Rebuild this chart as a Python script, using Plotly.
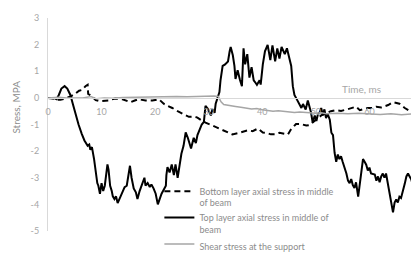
import plotly.graph_objects as go

# ---- data ----
top_t = [0, 1.0, 1.6, 2.0, 2.5, 3.1, 3.6, 4.2, 4.6, 5.1, 5.7, 6.3, 6.8, 7.4, 7.7, 7.9, 8.2, 8.6, 8.9, 9.2,
         9.4, 9.7, 10.0, 10.3, 10.6, 10.8, 11.1, 11.3, 11.6, 11.9, 12.1, 12.4, 12.7, 13.0, 13.3, 13.6, 13.9,
         14.3, 14.7, 15.0, 15.3, 15.6, 16.0, 16.4, 16.7, 17.1, 17.5, 18.0, 18.2, 18.6, 19.0, 19.3, 19.7,
         20.1, 20.5, 20.8, 21.2, 21.6, 22.0, 22.1, 22.3, 22.7, 23.1, 23.5, 23.8, 24.2, 24.6, 24.9, 25.3,
         25.7, 26.1, 26.4, 26.7, 27.2, 27.6, 27.9, 28.3, 28.7, 29.1, 29.4, 29.8, 30.1, 30.4, 30.7, 31.1,
         31.3, 31.7, 32.0, 32.2, 32.6, 33.0, 33.2, 33.6, 33.9, 34.1, 34.5, 34.8, 35.0, 35.4, 35.8, 36.2,
         36.5, 36.8, 37.2, 37.6, 38.0, 38.4, 38.8, 39.0, 39.5, 39.7, 40.1, 40.5, 41.0, 41.5, 41.9, 42.4,
         42.8, 43.2, 43.6, 44.2, 44.6, 45.1, 45.4, 45.7, 46.0, 46.3, 46.6, 47.0, 47.3, 47.6, 47.9, 48.1,
         48.5, 48.8, 49.1, 49.4, 49.8, 50.1, 50.4, 50.7, 51.0, 51.3, 51.6, 51.9, 52.2, 52.6, 52.9, 53.2,
         53.5, 53.8, 54.1, 54.4, 54.7, 55.0, 55.4, 55.7, 56.0, 56.3, 56.6, 56.9, 57.2, 57.5, 57.9, 58.2,
         58.5, 58.8, 59.1, 59.4, 59.7, 60.0, 60.3, 61.0, 61.3, 61.6, 61.9, 62.2, 62.5, 62.8, 63.1, 63.5,
         63.8, 64.1, 64.4, 64.7, 65.0, 65.3, 65.6, 65.9, 66.3, 66.6, 66.9, 67.2, 67.5, 67.8, 68.1, 68.4,
         68.7, 69.1, 69.4, 69.7, 70.0]
top_v = [0, 0.0, -0.05, 0.1, 0.35, 0.44, 0.35, 0.1, -0.2, -0.6, -1.0, -1.35, -1.6, -1.8, -1.75, -1.95, -1.85,
         -2.3, -2.8, -3.2, -3.3, -3.6, -3.2, -3.5, -3.3, -3.0, -2.5, -2.7, -3.3, -3.5, -3.7, -3.8, -3.7,
         -3.95, -3.8, -3.7, -3.5, -3.35, -3.3, -2.95, -2.55, -3.0, -3.4, -3.55, -3.8, -3.5, -3.3, -3.0,
         -3.3, -3.2, -3.35, -3.25, -3.4, -3.6, -4.0, -3.8, -3.6, -3.45, -3.3, -2.9, -2.6, -2.8, -2.5,
         -2.9, -2.5, -3.0, -2.4, -2.1, -1.8, -1.3, -1.5, -1.7, -1.9, -1.5, -1.7, -1.4, -1.2, -1.0, -0.9,
         -0.3, -0.4, -0.56, -0.66, -0.43, -0.56, -0.22, 0.0, 0.22, 0.66, 1.2, 1.25, 1.3, 1.37, 1.74, 1.91,
         1.6, 1.2, 0.71, 1.04, 0.7, 0.44, 1.86, 1.26, 1.64, 0.76, 1.15, 0.66, 0.55, 0.49, 0.66, 0.5, 1.26,
         1.75, 1.99, 1.42, 1.97, 1.37, 1.86, 1.48, 1.91, 1.64, 1.86, 1.37, 1.2, 0.44, 0.11, 0.0, -0.11,
         -0.22, -0.38, -0.23, -0.4, -0.44, -0.1, -0.3, -0.55, -0.92, -0.66, -0.87, -0.6, -0.55, -0.38,
         -0.65, -0.43, -0.76, -0.6, -0.82, -1.31, -1.4, -2.07, -2.4, -2.13, -2.3, -2.19, -2.4, -2.62,
         -2.84, -3.11, -3.2, -3.05, -3.28, -3.38, -3.17, -3.71, -3.17, -2.73, -2.3, -2.4, -2.51, -2.73,
         -2.62, -2.84, -2.88, -3.11, -2.95, -3.17, -2.95, -2.84, -3.0, -2.84, -3.28, -3.6, -3.93, -4.3,
         -3.93, -3.82, -3.93, -3.71, -3.76, -3.5, -3.22, -2.95, -2.84, -2.95, -3.06, -3.28, -2.84, -2.51,
         -2.4, -2.08, -2.19, -2.3]

bottom_t = [0, 0.8, 1.4, 2.3, 3.3, 4.2, 5.1, 5.8, 6.4, 7.0, 7.4, 7.5, 7.9, 8.5, 8.9, 9.6, 10.4, 11.3, 11.9,
            12.6, 13.9, 14.5, 15.4, 16.2, 16.9, 18.2, 19.5, 20.7, 21.6, 22.3, 23.2, 24.2, 25.1, 26.3, 27.2,
            27.9, 28.7, 29.4, 30.7, 31.9, 32.6, 33.5, 34.4, 35.7, 36.6, 37.3, 38.2, 39.2, 40.1, 40.7, 41.6,
            42.3, 43.2, 44.0, 44.8, 45.3, 46.3, 47.2, 48.2, 48.8, 49.4, 50.4, 51.0, 51.9, 52.8, 53.7, 54.7,
            55.7, 56.6, 57.5, 58.2, 59.0, 59.7, 60.5, 61.3, 62.2, 63.5, 64.4, 65.0, 65.6, 66.6, 67.5, 68.4,
            69.4, 70.0]
bottom_v = [0, -0.02, -0.07, -0.07, -0.02, 0.05, 0.16, 0.27, 0.3, 0.44, 0.49, 0.15, 0.1, 0.0, -0.08, -0.12,
            -0.1, -0.1, -0.05, -0.02, -0.05, -0.1, -0.16, -0.1, -0.05, -0.1, -0.1, -0.05, -0.22, -0.3, -0.38,
            -0.5, -0.6, -0.71, -0.7, -0.74, -0.85, -0.93, -1.04, -1.15, -1.22, -1.31, -1.37, -1.31, -1.26,
            -1.22, -1.25, -1.15, -1.3, -1.31, -1.37, -1.37, -1.31, -1.35, -1.37, -1.2, -0.98, -0.98, -1.04,
            -1.02, -0.92, -0.76, -0.66, -0.58, -0.5, -0.46, -0.49, -0.44, -0.38, -0.33, -0.46, -0.42, -0.38,
            -0.38, -0.33, -0.36, -0.27, -0.16, -0.2, -0.22, -0.38, -0.49, -0.44, -0.49, -0.48]

shear_t = [0, 2, 3.5, 5, 6.5, 8, 8.5, 9, 10.5, 12, 14, 16, 18, 20, 22, 24, 26, 28, 30, 31, 31.8, 32.3, 32.8,
           34, 35, 36, 37, 38, 39, 40, 41, 42, 43, 44, 45, 46, 47, 48, 49, 50, 51, 52, 54, 56, 58, 60,
           62, 64, 66, 68, 69, 70]
shear_v = [0, 0.02, 0.0, 0.01, 0.0, 0.05, 0.02, -0.03, 0.0, -0.01, 0.01, 0.02, 0.01, 0.03, 0.03, 0.05, 0.04,
           0.06, 0.06, 0.07, 0.05, -0.15, -0.25, -0.3, -0.32, -0.35, -0.38, -0.42, -0.4, -0.45, -0.47, -0.5,
           -0.48, -0.5, -0.52, -0.55, -0.53, -0.55, -0.57, -0.58, -0.56, -0.6, -0.58, -0.6, -0.58, -0.6,
           -0.62, -0.6, -0.63, -0.6, -0.62, -0.58]

names = ["Bottom layer axial stress in middle<br>of beam",
         "Top layer axial stress in middle of<br>beam",
         "Shear stress at the support"]

x_ticks = [0, 10, 20, 30, 40, 50, 60, 70]
y_ticks = [-5, -4, -3, -2, -1, 0, 1, 2, 3]
y_ticktext = ["-5", "-4", "-3", "-2", "-1", "0", "1", "2", "3"]

FONT = "Lato"
GRAY_TXT = "#8c8c8c"
LIGHT_TXT = "#a6a6a6"

fig = go.Figure()
fig.add_trace(go.Scatter(x=bottom_t, y=bottom_v, mode="lines", name=names[0],
                         line=dict(color="#000000", width=2, dash="6px,4px")))
fig.add_trace(go.Scatter(x=top_t, y=top_v, mode="lines", name=names[1],
                         line=dict(color="#000000", width=2)))
fig.add_trace(go.Scatter(x=shear_t, y=shear_v, mode="lines", name=names[2],
                         line=dict(color="#a6a6a6", width=1.5)))

fig.update_layout(
    width=419, height=257,
    margin=dict(l=40, r=4, t=9, b=4),
    paper_bgcolor="white", plot_bgcolor="white",
    font=dict(family=FONT, size=9, color=GRAY_TXT),
    showlegend=True,
    legend=dict(x=0.297, y=0.245, xanchor="left", yanchor="top",
                bgcolor="rgba(0,0,0,0)", valign="top", tracegroupgap=0,
                font=dict(family=FONT, size=9, color=GRAY_TXT)),
    xaxis=dict(range=[0, 70], tickvals=x_ticks, showgrid=False, zeroline=False,
               showline=True, linecolor="#d9d9d9", linewidth=1,
               anchor="free", position=0.625, ticks="", ticklabelstandoff=5,
               tickfont=dict(family=FONT, size=9, color=LIGHT_TXT)),
    yaxis=dict(range=[-5, 3], tickvals=y_ticks, ticktext=y_ticktext, showgrid=False,
               zeroline=False, showline=True, linecolor="#d9d9d9", linewidth=1,
               ticks="", ticklabelstandoff=6,
               tickfont=dict(family=FONT, size=9, color=LIGHT_TXT)),
)

# y-axis title (placed as in the reference, near the zero level)
fig.add_annotation(text="Stress, MPA", xref="paper", yref="paper", x=-0.085, y=0.58,
                   textangle=-90, showarrow=False, xanchor="center", yanchor="middle",
                   font=dict(family=FONT, size=10, color=GRAY_TXT))
# x-axis title above the axis line, right side
fig.add_annotation(text="Time, ms", xref="x", yref="y", x=62.5, y=0.33,
                   showarrow=False, xanchor="right", yanchor="middle",
                   font=dict(family=FONT, size=10, color=LIGHT_TXT))

fig.write_html("out.html")
